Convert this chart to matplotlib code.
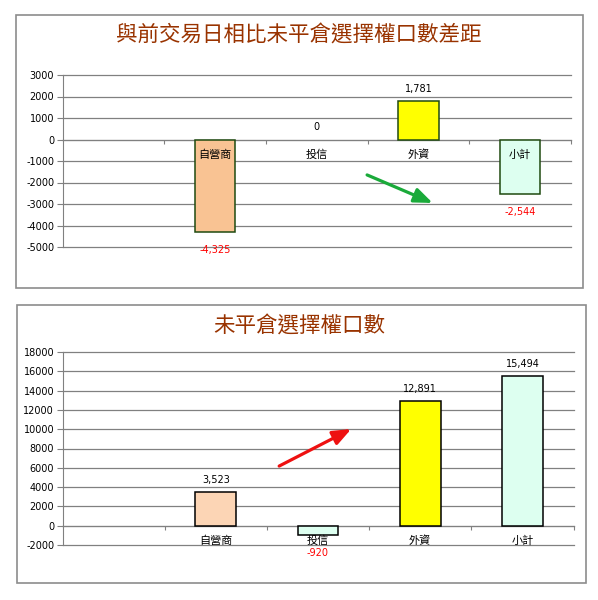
import numpy as np
import matplotlib
matplotlib.use('Agg')
import matplotlib.pyplot as plt
from matplotlib.patches import Rectangle

plt.rcParams['font.family'] = ['DejaVu Sans', 'Noto Sans CJK TC']
plt.rcParams['axes.unicode_minus'] = False

categories = ['自營商', '投信', '外資', '小計']
diff_values = [-4325, 0, 1781, -2544]
oi_values = [3523, -920, 12891, 15494]
diff_colors = ['#F9C393', '#DDFFF0', '#FFFF00', '#DDFFF0']
oi_colors = ['#FCD5B5', '#DDFFF0', '#FFFF00', '#DDFFF0']
title_top = '與前交易日相比未平倉選擇權口數差距'
title_bottom = '未平倉選擇權口數'

W, H = 598, 600
fig = plt.figure(figsize=(W / 100, H / 100), dpi=100)

# panel frames
for x0, y0, x1, y1 in [(16, 15, 583, 288), (17, 305, 586, 583)]:
    fig.patches.append(Rectangle((x0 / W, 1 - y1 / H), (x1 - x0) / W, (y1 - y0) / H,
                                 transform=fig.transFigure, fill=False,
                                 edgecolor='#8c8c8c', lw=1.2))


def draw_panel(rect, values, colors, edge, ylim, step, title, title_y):
    ax = fig.add_axes(rect)
    pos = np.arange(1, len(values) + 1)  # first slot is empty
    lws = [1.1 if v != 0 else 0 for v in values]
    ax.bar(pos, values, width=0.4, color=colors, edgecolor=edge, lw=lws, zorder=3)
    ax.set_xlim(-0.5, len(values) + 0.5)
    ax.set_ylim(*ylim)
    yt = np.arange(ylim[0], ylim[1] + 1, step)
    ax.set_yticks(yt)
    ax.set_yticklabels([str(v) for v in yt], fontsize=7)
    ax.yaxis.grid(True, color='#808080', lw=0.9)
    for gl in ax.get_ygridlines():
        gl.set_clip_on(False)
    ax.set_axisbelow(True)
    for s in ['top', 'right']:
        ax.spines[s].set_visible(False)
    ax.spines['left'].set_color('#808080')
    ax.spines['bottom'].set_position(('data', 0))
    ax.spines['bottom'].set_color('#808080')
    ax.set_xticks(np.arange(0.5, len(values) + 1))
    ax.set_xticklabels([])
    ax.tick_params(axis='x', length=3, color='#808080')
    ax.tick_params(axis='y', length=4, color='#808080', pad=2)
    for p, c in zip(pos, categories):
        ax.annotate(c, (p, 0), xytext=(0, -15), textcoords='offset pixels',
                    ha='center', va='center', fontsize=8,
                    family=['Noto Sans CJK TC'], zorder=5)
    for p, v in zip(pos, values):
        if v >= 0:
            ax.annotate(f'{v:,}', (p, v), xytext=(0, 12), textcoords='offset pixels',
                        ha='center', va='center', fontsize=7, color='black')
        else:
            ax.annotate(f'{v:,}', (p, v), xytext=(0, -18), textcoords='offset pixels',
                        ha='center', va='center', fontsize=7, color='#FF0000')
    fig.text(0.5, title_y, title, ha='center', va='center', fontsize=15.5,
             color='#993300', family=['Noto Sans CJK TC'])
    return ax


arrow_style = '-|>,head_length=0.55,head_width=0.22'

ax1 = draw_panel([62.5 / W, 1 - 247 / H, 508.5 / W, 172 / H], diff_values, diff_colors,
                 '#1f4a10', (-5000, 3000), 1000, title_top, 1 - 36 / H)
ax1.annotate('', xy=(0.728, 0.256), xytext=(0.599, 0.419), xycoords='axes fraction',
             arrowprops=dict(arrowstyle=arrow_style, color='#1AAA3A', lw=2.3,
                             mutation_scale=20, shrinkA=0, shrinkB=0))

ax2 = draw_panel([62.5 / W, 1 - 545 / H, 511 / W, 193 / H], oi_values, oi_colors,
                 'black', (-2000, 18000), 2000, title_bottom, 1 - 327 / H)
ax2.annotate('', xy=(0.565, 0.601), xytext=(0.424, 0.409), xycoords='axes fraction',
             arrowprops=dict(arrowstyle=arrow_style, color='#EE1111', lw=2.3,
                             mutation_scale=20, shrinkA=0, shrinkB=0))

fig.savefig('out.png', dpi=100)
